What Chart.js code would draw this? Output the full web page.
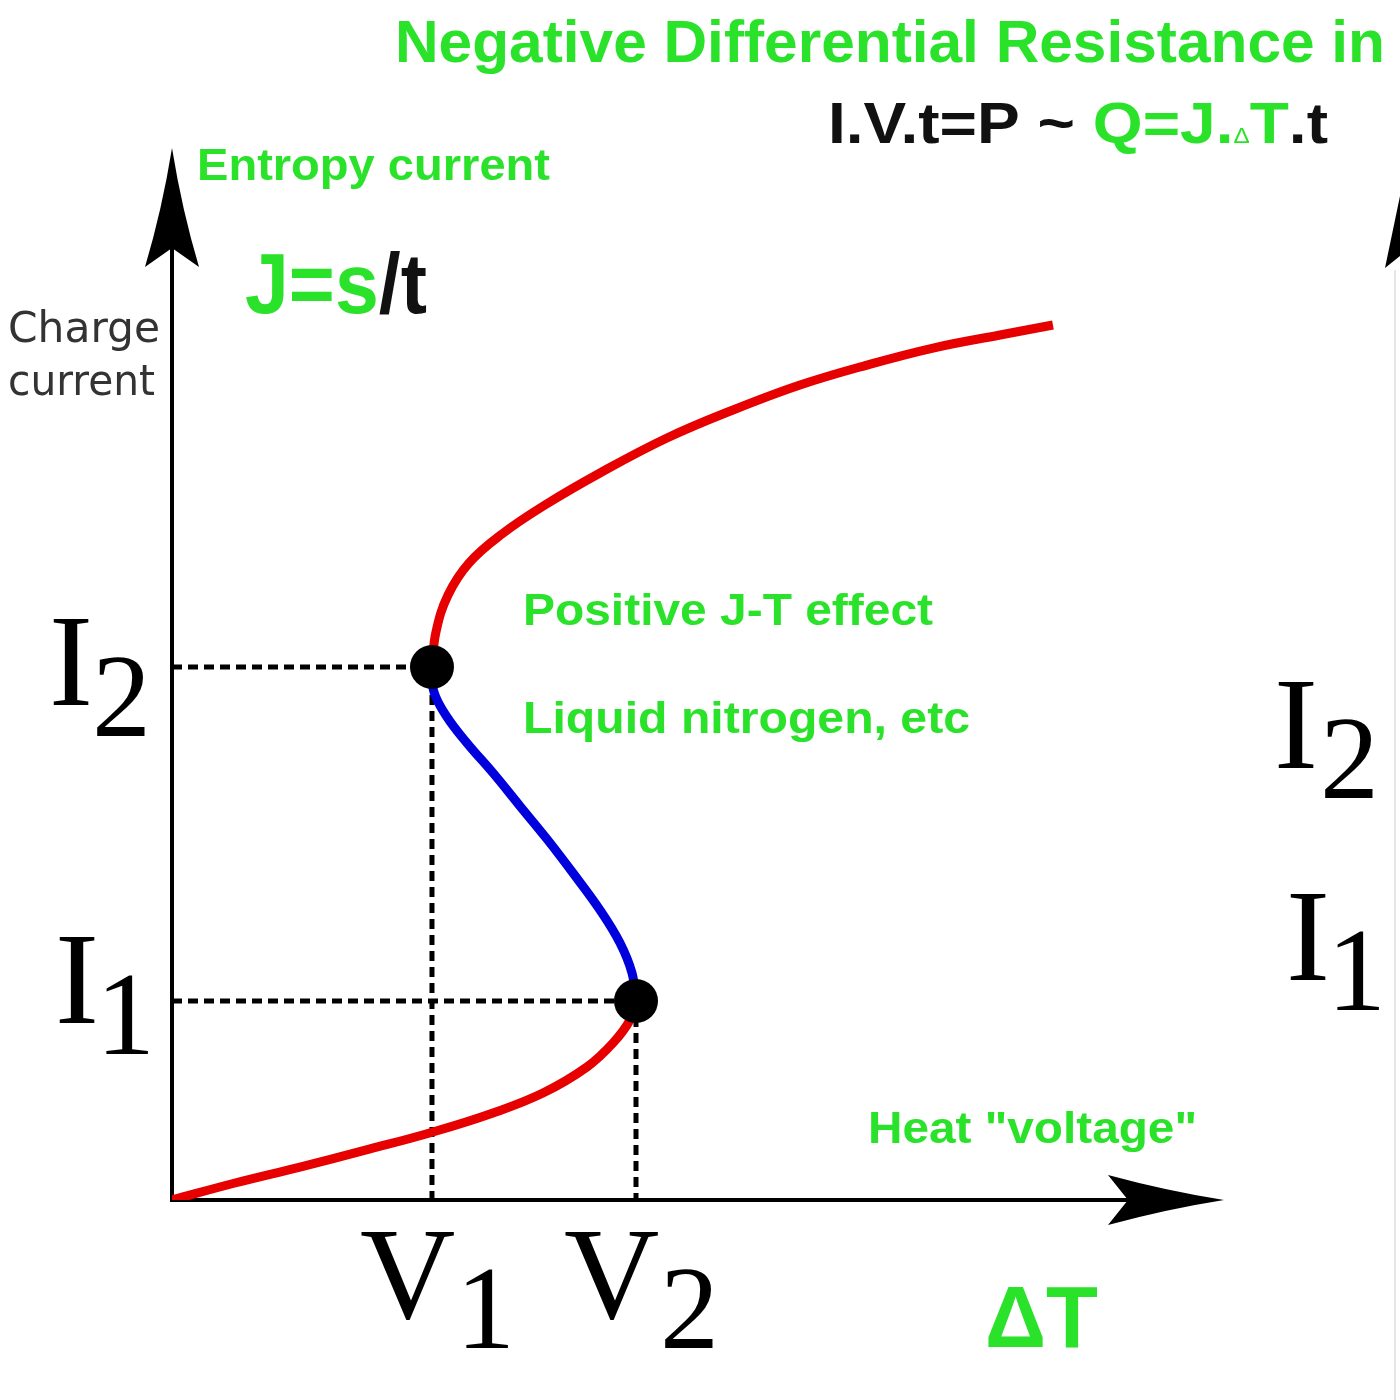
<!DOCTYPE html>
<html>
<head>
<meta charset="utf-8">
<script src="https://cdn.jsdelivr.net/npm/chart.js@4.4.1/dist/chart.umd.min.js"></script>
<style>
  html, body { margin: 0; padding: 0; background: #fff; }
  #wrap { width: 1400px; height: 1400px; }
</style>
</head>
<body>
<div id="wrap"><canvas id="ndr" width="1400" height="1400"></canvas></div>
<script>
// S-shaped I-V curve (both axes run 0..10)
const upperX = [2.476, 2.514, 2.629, 2.829, 3.143, 3.552, 4.076, 4.714, 5.343, 5.981, 6.619, 7.248, 7.886, 8.390];
const upperY = [5.076, 5.410, 5.762, 6.067, 6.343, 6.619, 6.924, 7.257, 7.524, 7.762, 7.952, 8.114, 8.238, 8.333];
const middleX = [2.476, 2.495, 2.619, 2.810, 3.057, 3.314, 3.571, 3.819, 4.076, 4.267, 4.381, 4.419];
const middleY = [5.076, 4.838, 4.600, 4.352, 4.067, 3.752, 3.438, 3.114, 2.762, 2.448, 2.162, 1.895];
const lowerX = [4.419, 4.362, 4.200, 3.952, 3.533, 3.057, 2.486, 1.886, 1.219, 0.600, 0];
const lowerY = [1.895, 1.714, 1.495, 1.267, 1.019, 0.829, 0.648, 0.486, 0.314, 0.162, 0];

// turning points and their tick labels (letter + subscript)
const turnX = [2.476, 4.419];
const turnY = [5.076, 1.895];
const xTickLabels = [['V', '1'], ['V', '2']];
const yTickLabels = [['I', '2'], ['I', '1']];

const GREEN = '#2ae22a';
const SANS = '"Liberation Sans", Arial, sans-serif';
const SERIF = '"Liberation Serif", "DejaVu Serif", serif';

const pts = (xs, ys) => xs.map((x, i) => ({ x: x, y: ys[i] }));

// dashed guide: from the y axis across to the point, then down to the x axis
const guide = i => [{ x: 0, y: turnY[i] }, { x: turnX[i], y: turnY[i] }, { x: turnX[i], y: 0 }];

// draw a row of coloured text pieces squeezed/stretched to a given width
function drawRuns(ctx, runs, x, y, width) {
  let total = 0;
  runs.forEach(r => { ctx.font = r.font; total += ctx.measureText(r.text).width; });
  ctx.save();
  ctx.translate(x, y);
  ctx.scale(width / total, 1);
  let cx = 0;
  runs.forEach(r => {
    ctx.font = r.font;
    ctx.fillStyle = r.color;
    ctx.fillText(r.text, cx, 0);
    cx += ctx.measureText(r.text).width;
  });
  ctx.restore();
}

function subLabel(ctx, main, sub, x, y, subX, subY) {
  ctx.fillStyle = '#000';
  ctx.font = '132px ' + SERIF;
  ctx.fillText(main, x, y);
  ctx.font = '118px ' + SERIF;
  ctx.fillText(sub, subX, subY);
}

const diagram = {
  id: 'diagram',
  beforeDatasetsDraw(chart) {
    const ctx = chart.ctx;
    const x0 = chart.scales.x.getPixelForValue(0);
    const y0 = chart.scales.y.getPixelForValue(0);
    const xEnd = chart.scales.x.getPixelForValue(10);
    const yEnd = chart.scales.y.getPixelForValue(10);
    ctx.save();
    ctx.strokeStyle = '#000';
    ctx.fillStyle = '#000';
    ctx.lineWidth = 4;
    ctx.beginPath();
    ctx.moveTo(x0, y0);
    ctx.lineTo(x0, yEnd + 60);
    ctx.moveTo(x0 - 2, y0);
    ctx.lineTo(xEnd - 60, y0);
    ctx.stroke();

    // arrow heads
    ctx.beginPath();
    ctx.moveTo(x0, yEnd - 2);
    ctx.quadraticCurveTo(x0 + 10, yEnd + 60, x0 + 27, yEnd + 117);
    ctx.lineTo(x0, yEnd + 98);
    ctx.lineTo(x0 - 27, yEnd + 117);
    ctx.quadraticCurveTo(x0 - 10, yEnd + 60, x0, yEnd - 2);
    ctx.fill();

    ctx.beginPath();
    ctx.moveTo(xEnd + 2, y0);
    ctx.quadraticCurveTo(xEnd - 55, y0 + 9, xEnd - 114, y0 + 25);
    ctx.lineTo(xEnd - 94, y0);
    ctx.lineTo(xEnd - 114, y0 - 25);
    ctx.quadraticCurveTo(xEnd - 55, y0 - 9, xEnd + 2, y0);
    ctx.fill();

    // edge of the neighbouring panel, cut off on the right
    ctx.strokeStyle = '#e6e6e6';
    ctx.lineWidth = 2;
    ctx.beginPath();
    ctx.moveTo(1395, 270);
    ctx.lineTo(1395, 1400);
    ctx.stroke();
    ctx.beginPath();
    ctx.moveTo(1385, 268);
    ctx.lineTo(1400, 196);
    ctx.lineTo(1400, 256);
    ctx.closePath();
    ctx.fill();
    ctx.restore();
  },
  afterDraw(chart) {
    const ctx = chart.ctx;
    const sx = chart.scales.x;
    const sy = chart.scales.y;
    ctx.save();
    ctx.textBaseline = 'alphabetic';
    ctx.textAlign = 'left';

    const b = 'bold ';
    drawRuns(ctx, [{ text: 'Negative Differential Resistance in', font: b + '60px ' + SANS, color: GREEN }], 395, 62, 990);
    drawRuns(ctx, [
      { text: 'I.V.t=P ~ ', font: b + '58px ' + SANS, color: '#111' },
      { text: 'Q=J.', font: b + '58px ' + SANS, color: GREEN },
      { text: '\u0394', font: '22px ' + SANS, color: GREEN },
      { text: 'T', font: b + '58px ' + SANS, color: GREEN },
      { text: '.t', font: b + '58px ' + SANS, color: '#111' }
    ], 828, 143, 500);
    drawRuns(ctx, [{ text: 'Entropy current', font: b + '44px ' + SANS, color: GREEN }], 197, 180, 353);
    drawRuns(ctx, [
      { text: 'J=s', font: b + '86px ' + SANS, color: GREEN },
      { text: '/t', font: b + '86px ' + SANS, color: '#111' }
    ], 245, 313, 182);
    drawRuns(ctx, [{ text: 'Charge', font: '42px "DejaVu Sans", sans-serif', color: '#333' }], 8, 342, 152);
    drawRuns(ctx, [{ text: 'current', font: '42px "DejaVu Sans", sans-serif', color: '#333' }], 8, 395, 147);
    drawRuns(ctx, [{ text: 'Positive J-T effect', font: b + '45px ' + SANS, color: GREEN }], 523, 625, 410);
    drawRuns(ctx, [{ text: 'Liquid nitrogen, etc', font: b + '45px ' + SANS, color: GREEN }], 523, 733, 447);
    drawRuns(ctx, [{ text: 'Heat "voltage"', font: b + '45px ' + SANS, color: GREEN }], 868, 1143, 329);
    drawRuns(ctx, [{ text: '\u0394T', font: b + '88px ' + SANS, color: GREEN }], 985, 1347, 113);

    // tick labels at the turning points
    turnY.forEach((v, i) => {
      const py = sy.getPixelForValue(v);
      const dy = i === 0 ? 38 : 22;
      subLabel(ctx, yTickLabels[i][0], yTickLabels[i][1], 49 + i * 6, py + dy, 92 + i * 4, py + dy + 31);
    });
    turnX.forEach((v, i) => {
      const px = sx.getPixelForValue(v);
      subLabel(ctx, xTickLabels[i][0], xTickLabels[i][1], px - 72, 1318, px + 24, 1348);
    });

    // labels of the cut-off panel on the right
    subLabel(ctx, 'I', '2', 1274, 768, 1320, 798);
    subLabel(ctx, 'I', '1', 1286, 980, 1327, 1010);
    ctx.restore();
  }
};

const ctx = document.getElementById('ndr').getContext('2d');
new Chart(ctx, {
  type: 'scatter',
  data: {
    datasets: [
      { data: pts(upperX, upperY), showLine: true, borderColor: '#e60000', borderWidth: 9, tension: 0.4, pointRadius: 0, order: 1 },
      { data: pts(middleX, middleY), showLine: true, borderColor: '#0000dd', borderWidth: 9, tension: 0.4, pointRadius: 0, order: 1 },
      { data: pts(lowerX, lowerY), showLine: true, borderColor: '#e60000', borderWidth: 9, tension: 0.4, pointRadius: 0, order: 1 },
      { data: guide(0), showLine: true, borderColor: '#000', borderWidth: 5, borderDash: [10, 6], tension: 0, pointRadius: 0, order: 2 },
      { data: guide(1), showLine: true, borderColor: '#000', borderWidth: 5, borderDash: [10, 6], tension: 0, pointRadius: 0, order: 2 },
      { data: pts(turnX, turnY), showLine: false, pointRadius: 22, pointBackgroundColor: '#000', pointBorderWidth: 0, order: 0 }
    ]
  },
  options: {
    responsive: false,
    animation: false,
    devicePixelRatio: 1,
    layout: { padding: { left: 172, right: 178, top: 150, bottom: 200 } },
    plugins: { legend: { display: false }, tooltip: { enabled: false } },
    scales: {
      x: { type: 'linear', min: 0, max: 10, display: false },
      y: { type: 'linear', min: 0, max: 10, display: false }
    }
  },
  plugins: [diagram]
});
</script>
</body>
</html>
